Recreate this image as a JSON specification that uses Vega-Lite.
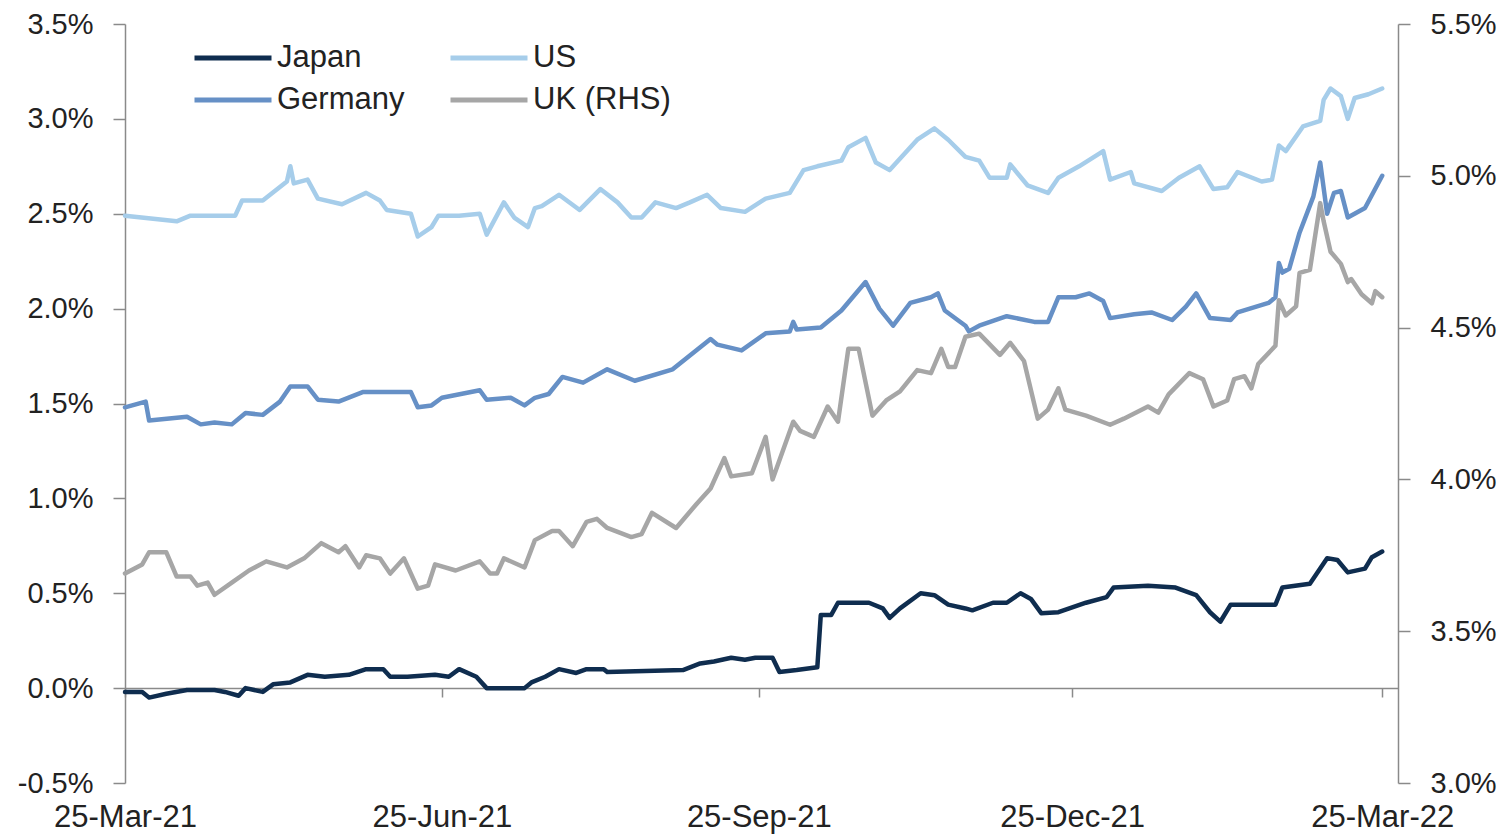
{
"$schema": "https://vega.github.io/schema/vega-lite/v6.json",
"width": 1273,
"height": 759,
"autosize": {"type": "none"},
"padding": {"left": 125, "top": 24, "right": 114, "bottom": 52},
"background": "white",
"config": {
  "font": "Liberation Sans",
  "view": {"stroke": null},
  "axis": {"labelFont": "Liberation Sans", "labelFontSize": 29, "labelColor": "#222222", "domainColor": "#8a8a8a", "tickColor": "#8a8a8a", "domainWidth": 1.5, "tickWidth": 1.5, "grid": false, "title": null, "labelOverlap": false}
},
"data": {
  "format": {"parse": {"d": "date:'%Y-%m-%d'"}},
  "values": [
{"d":"2021-03-25","s":"US","v":2.49},{"d":"2021-04-09","s":"US","v":2.46},{"d":"2021-04-13","s":"US","v":2.49},{"d":"2021-04-26","s":"US","v":2.49},{"d":"2021-04-28","s":"US","v":2.57},{"d":"2021-05-04","s":"US","v":2.57},{"d":"2021-05-11","s":"US","v":2.67},{"d":"2021-05-12","s":"US","v":2.75},{"d":"2021-05-13","s":"US","v":2.66},{"d":"2021-05-17","s":"US","v":2.68},{"d":"2021-05-20","s":"US","v":2.58},{"d":"2021-05-27","s":"US","v":2.55},{"d":"2021-06-03","s":"US","v":2.61},{"d":"2021-06-07","s":"US","v":2.57},{"d":"2021-06-09","s":"US","v":2.52},{"d":"2021-06-16","s":"US","v":2.50},{"d":"2021-06-18","s":"US","v":2.38},{"d":"2021-06-22","s":"US","v":2.43},{"d":"2021-06-24","s":"US","v":2.49},{"d":"2021-06-30","s":"US","v":2.49},{"d":"2021-07-06","s":"US","v":2.50},{"d":"2021-07-08","s":"US","v":2.39},{"d":"2021-07-13","s":"US","v":2.56},{"d":"2021-07-16","s":"US","v":2.48},{"d":"2021-07-20","s":"US","v":2.43},{"d":"2021-07-22","s":"US","v":2.53},{"d":"2021-07-24","s":"US","v":2.54},{"d":"2021-07-29","s":"US","v":2.60},{"d":"2021-08-04","s":"US","v":2.52},{"d":"2021-08-10","s":"US","v":2.63},{"d":"2021-08-15","s":"US","v":2.56},{"d":"2021-08-19","s":"US","v":2.48},{"d":"2021-08-22","s":"US","v":2.48},{"d":"2021-08-26","s":"US","v":2.56},{"d":"2021-09-01","s":"US","v":2.53},{"d":"2021-09-05","s":"US","v":2.56},{"d":"2021-09-10","s":"US","v":2.60},{"d":"2021-09-14","s":"US","v":2.53},{"d":"2021-09-21","s":"US","v":2.51},{"d":"2021-09-27","s":"US","v":2.58},{"d":"2021-10-04","s":"US","v":2.61},{"d":"2021-10-08","s":"US","v":2.73},{"d":"2021-10-12","s":"US","v":2.75},{"d":"2021-10-19","s":"US","v":2.78},{"d":"2021-10-21","s":"US","v":2.85},{"d":"2021-10-26","s":"US","v":2.90},{"d":"2021-10-29","s":"US","v":2.77},{"d":"2021-11-02","s":"US","v":2.73},{"d":"2021-11-10","s":"US","v":2.89},{"d":"2021-11-15","s":"US","v":2.95},{"d":"2021-11-19","s":"US","v":2.89},{"d":"2021-11-24","s":"US","v":2.80},{"d":"2021-11-28","s":"US","v":2.78},{"d":"2021-12-01","s":"US","v":2.69},{"d":"2021-12-06","s":"US","v":2.69},{"d":"2021-12-07","s":"US","v":2.76},{"d":"2021-12-12","s":"US","v":2.65},{"d":"2021-12-18","s":"US","v":2.61},{"d":"2021-12-21","s":"US","v":2.69},{"d":"2021-12-27","s":"US","v":2.75},{"d":"2022-01-03","s":"US","v":2.83},{"d":"2022-01-05","s":"US","v":2.68},{"d":"2022-01-11","s":"US","v":2.72},{"d":"2022-01-12","s":"US","v":2.66},{"d":"2022-01-20","s":"US","v":2.62},{"d":"2022-01-25","s":"US","v":2.69},{"d":"2022-01-31","s":"US","v":2.75},{"d":"2022-02-04","s":"US","v":2.63},{"d":"2022-02-08","s":"US","v":2.64},{"d":"2022-02-11","s":"US","v":2.72},{"d":"2022-02-18","s":"US","v":2.67},{"d":"2022-02-21","s":"US","v":2.68},{"d":"2022-02-23","s":"US","v":2.86},{"d":"2022-02-25","s":"US","v":2.83},{"d":"2022-03-02","s":"US","v":2.96},{"d":"2022-03-07","s":"US","v":2.99},{"d":"2022-03-08","s":"US","v":3.10},{"d":"2022-03-10","s":"US","v":3.16},{"d":"2022-03-13","s":"US","v":3.12},{"d":"2022-03-15","s":"US","v":3.00},{"d":"2022-03-17","s":"US","v":3.11},{"d":"2022-03-21","s":"US","v":3.13},{"d":"2022-03-25","s":"US","v":3.16},
{"d":"2021-03-25","s":"Germany","v":1.48},{"d":"2021-03-31","s":"Germany","v":1.51},{"d":"2021-04-01","s":"Germany","v":1.41},{"d":"2021-04-12","s":"Germany","v":1.43},{"d":"2021-04-16","s":"Germany","v":1.39},{"d":"2021-04-20","s":"Germany","v":1.40},{"d":"2021-04-25","s":"Germany","v":1.39},{"d":"2021-04-29","s":"Germany","v":1.45},{"d":"2021-05-04","s":"Germany","v":1.44},{"d":"2021-05-09","s":"Germany","v":1.51},{"d":"2021-05-12","s":"Germany","v":1.59},{"d":"2021-05-17","s":"Germany","v":1.59},{"d":"2021-05-20","s":"Germany","v":1.52},{"d":"2021-05-26","s":"Germany","v":1.51},{"d":"2021-06-02","s":"Germany","v":1.56},{"d":"2021-06-08","s":"Germany","v":1.56},{"d":"2021-06-16","s":"Germany","v":1.56},{"d":"2021-06-18","s":"Germany","v":1.48},{"d":"2021-06-22","s":"Germany","v":1.49},{"d":"2021-06-25","s":"Germany","v":1.53},{"d":"2021-07-06","s":"Germany","v":1.57},{"d":"2021-07-08","s":"Germany","v":1.52},{"d":"2021-07-15","s":"Germany","v":1.53},{"d":"2021-07-19","s":"Germany","v":1.49},{"d":"2021-07-22","s":"Germany","v":1.53},{"d":"2021-07-26","s":"Germany","v":1.55},{"d":"2021-07-30","s":"Germany","v":1.64},{"d":"2021-08-05","s":"Germany","v":1.61},{"d":"2021-08-12","s":"Germany","v":1.68},{"d":"2021-08-20","s":"Germany","v":1.62},{"d":"2021-08-31","s":"Germany","v":1.68},{"d":"2021-09-02","s":"Germany","v":1.71},{"d":"2021-09-11","s":"Germany","v":1.84},{"d":"2021-09-13","s":"Germany","v":1.81},{"d":"2021-09-20","s":"Germany","v":1.78},{"d":"2021-09-27","s":"Germany","v":1.87},{"d":"2021-10-04","s":"Germany","v":1.88},{"d":"2021-10-05","s":"Germany","v":1.93},{"d":"2021-10-06","s":"Germany","v":1.89},{"d":"2021-10-13","s":"Germany","v":1.90},{"d":"2021-10-19","s":"Germany","v":1.99},{"d":"2021-10-26","s":"Germany","v":2.14},{"d":"2021-10-30","s":"Germany","v":2.00},{"d":"2021-11-03","s":"Germany","v":1.91},{"d":"2021-11-08","s":"Germany","v":2.03},{"d":"2021-11-14","s":"Germany","v":2.06},{"d":"2021-11-16","s":"Germany","v":2.08},{"d":"2021-11-18","s":"Germany","v":1.99},{"d":"2021-11-24","s":"Germany","v":1.91},{"d":"2021-11-25","s":"Germany","v":1.88},{"d":"2021-11-28","s":"Germany","v":1.91},{"d":"2021-12-06","s":"Germany","v":1.96},{"d":"2021-12-14","s":"Germany","v":1.93},{"d":"2021-12-18","s":"Germany","v":1.93},{"d":"2021-12-21","s":"Germany","v":2.06},{"d":"2021-12-26","s":"Germany","v":2.06},{"d":"2021-12-30","s":"Germany","v":2.08},{"d":"2022-01-03","s":"Germany","v":2.04},{"d":"2022-01-05","s":"Germany","v":1.95},{"d":"2022-01-12","s":"Germany","v":1.97},{"d":"2022-01-17","s":"Germany","v":1.98},{"d":"2022-01-23","s":"Germany","v":1.94},{"d":"2022-01-27","s":"Germany","v":2.01},{"d":"2022-01-30","s":"Germany","v":2.08},{"d":"2022-02-03","s":"Germany","v":1.95},{"d":"2022-02-09","s":"Germany","v":1.94},{"d":"2022-02-11","s":"Germany","v":1.98},{"d":"2022-02-20","s":"Germany","v":2.03},{"d":"2022-02-22","s":"Germany","v":2.06},{"d":"2022-02-23","s":"Germany","v":2.24},{"d":"2022-02-24","s":"Germany","v":2.19},{"d":"2022-02-26","s":"Germany","v":2.21},{"d":"2022-03-01","s":"Germany","v":2.40},{"d":"2022-03-05","s":"Germany","v":2.59},{"d":"2022-03-07","s":"Germany","v":2.77},{"d":"2022-03-09","s":"Germany","v":2.50},{"d":"2022-03-11","s":"Germany","v":2.61},{"d":"2022-03-13","s":"Germany","v":2.62},{"d":"2022-03-15","s":"Germany","v":2.48},{"d":"2022-03-20","s":"Germany","v":2.53},{"d":"2022-03-25","s":"Germany","v":2.70},
{"d":"2021-03-25","s":"Japan","v":-0.02},{"d":"2021-03-30","s":"Japan","v":-0.02},{"d":"2021-04-01","s":"Japan","v":-0.05},{"d":"2021-04-06","s":"Japan","v":-0.03},{"d":"2021-04-12","s":"Japan","v":-0.01},{"d":"2021-04-20","s":"Japan","v":-0.01},{"d":"2021-04-23","s":"Japan","v":-0.02},{"d":"2021-04-27","s":"Japan","v":-0.04},{"d":"2021-04-29","s":"Japan","v":0.00},{"d":"2021-05-04","s":"Japan","v":-0.02},{"d":"2021-05-07","s":"Japan","v":0.02},{"d":"2021-05-12","s":"Japan","v":0.03},{"d":"2021-05-17","s":"Japan","v":0.07},{"d":"2021-05-22","s":"Japan","v":0.06},{"d":"2021-05-29","s":"Japan","v":0.07},{"d":"2021-06-03","s":"Japan","v":0.10},{"d":"2021-06-08","s":"Japan","v":0.10},{"d":"2021-06-10","s":"Japan","v":0.06},{"d":"2021-06-15","s":"Japan","v":0.06},{"d":"2021-06-23","s":"Japan","v":0.07},{"d":"2021-06-27","s":"Japan","v":0.06},{"d":"2021-06-30","s":"Japan","v":0.10},{"d":"2021-07-05","s":"Japan","v":0.06},{"d":"2021-07-08","s":"Japan","v":0.00},{"d":"2021-07-12","s":"Japan","v":0.00},{"d":"2021-07-19","s":"Japan","v":0.00},{"d":"2021-07-21","s":"Japan","v":0.03},{"d":"2021-07-25","s":"Japan","v":0.06},{"d":"2021-07-29","s":"Japan","v":0.10},{"d":"2021-08-03","s":"Japan","v":0.08},{"d":"2021-08-06","s":"Japan","v":0.10},{"d":"2021-08-11","s":"Japan","v":0.10},{"d":"2021-08-12","s":"Japan","v":0.085},{"d":"2021-09-03","s":"Japan","v":0.095},{"d":"2021-09-08","s":"Japan","v":0.13},{"d":"2021-09-12","s":"Japan","v":0.14},{"d":"2021-09-17","s":"Japan","v":0.16},{"d":"2021-09-21","s":"Japan","v":0.15},{"d":"2021-09-24","s":"Japan","v":0.16},{"d":"2021-09-29","s":"Japan","v":0.16},{"d":"2021-10-01","s":"Japan","v":0.085},{"d":"2021-10-06","s":"Japan","v":0.095},{"d":"2021-10-12","s":"Japan","v":0.11},{"d":"2021-10-13","s":"Japan","v":0.385},{"d":"2021-10-16","s":"Japan","v":0.385},{"d":"2021-10-18","s":"Japan","v":0.45},{"d":"2021-10-27","s":"Japan","v":0.45},{"d":"2021-10-31","s":"Japan","v":0.42},{"d":"2021-11-02","s":"Japan","v":0.37},{"d":"2021-11-05","s":"Japan","v":0.42},{"d":"2021-11-11","s":"Japan","v":0.50},{"d":"2021-11-15","s":"Japan","v":0.49},{"d":"2021-11-19","s":"Japan","v":0.44},{"d":"2021-11-24","s":"Japan","v":0.42},{"d":"2021-11-26","s":"Japan","v":0.41},{"d":"2021-12-02","s":"Japan","v":0.45},{"d":"2021-12-06","s":"Japan","v":0.45},{"d":"2021-12-10","s":"Japan","v":0.50},{"d":"2021-12-13","s":"Japan","v":0.47},{"d":"2021-12-16","s":"Japan","v":0.395},{"d":"2021-12-21","s":"Japan","v":0.40},{"d":"2021-12-29","s":"Japan","v":0.45},{"d":"2022-01-04","s":"Japan","v":0.48},{"d":"2022-01-06","s":"Japan","v":0.53},{"d":"2022-01-16","s":"Japan","v":0.54},{"d":"2022-01-24","s":"Japan","v":0.53},{"d":"2022-01-30","s":"Japan","v":0.49},{"d":"2022-02-03","s":"Japan","v":0.40},{"d":"2022-02-06","s":"Japan","v":0.35},{"d":"2022-02-09","s":"Japan","v":0.44},{"d":"2022-02-22","s":"Japan","v":0.44},{"d":"2022-02-24","s":"Japan","v":0.53},{"d":"2022-03-04","s":"Japan","v":0.55},{"d":"2022-03-09","s":"Japan","v":0.685},{"d":"2022-03-12","s":"Japan","v":0.675},{"d":"2022-03-15","s":"Japan","v":0.61},{"d":"2022-03-20","s":"Japan","v":0.63},{"d":"2022-03-22","s":"Japan","v":0.69},{"d":"2022-03-25","s":"Japan","v":0.72},
{"d":"2021-03-25","s":"UK (RHS)","v":3.69},{"d":"2021-03-30","s":"UK (RHS)","v":3.72},{"d":"2021-04-01","s":"UK (RHS)","v":3.76},{"d":"2021-04-06","s":"UK (RHS)","v":3.76},{"d":"2021-04-09","s":"UK (RHS)","v":3.68},{"d":"2021-04-13","s":"UK (RHS)","v":3.68},{"d":"2021-04-15","s":"UK (RHS)","v":3.65},{"d":"2021-04-18","s":"UK (RHS)","v":3.66},{"d":"2021-04-20","s":"UK (RHS)","v":3.62},{"d":"2021-04-25","s":"UK (RHS)","v":3.66},{"d":"2021-04-30","s":"UK (RHS)","v":3.70},{"d":"2021-05-05","s":"UK (RHS)","v":3.73},{"d":"2021-05-11","s":"UK (RHS)","v":3.71},{"d":"2021-05-16","s":"UK (RHS)","v":3.74},{"d":"2021-05-21","s":"UK (RHS)","v":3.79},{"d":"2021-05-26","s":"UK (RHS)","v":3.76},{"d":"2021-05-28","s":"UK (RHS)","v":3.78},{"d":"2021-06-01","s":"UK (RHS)","v":3.71},{"d":"2021-06-03","s":"UK (RHS)","v":3.75},{"d":"2021-06-07","s":"UK (RHS)","v":3.74},{"d":"2021-06-10","s":"UK (RHS)","v":3.69},{"d":"2021-06-14","s":"UK (RHS)","v":3.74},{"d":"2021-06-18","s":"UK (RHS)","v":3.64},{"d":"2021-06-21","s":"UK (RHS)","v":3.65},{"d":"2021-06-23","s":"UK (RHS)","v":3.72},{"d":"2021-06-29","s":"UK (RHS)","v":3.70},{"d":"2021-07-06","s":"UK (RHS)","v":3.73},{"d":"2021-07-09","s":"UK (RHS)","v":3.69},{"d":"2021-07-11","s":"UK (RHS)","v":3.69},{"d":"2021-07-13","s":"UK (RHS)","v":3.74},{"d":"2021-07-19","s":"UK (RHS)","v":3.71},{"d":"2021-07-22","s":"UK (RHS)","v":3.80},{"d":"2021-07-27","s":"UK (RHS)","v":3.83},{"d":"2021-07-29","s":"UK (RHS)","v":3.83},{"d":"2021-08-02","s":"UK (RHS)","v":3.78},{"d":"2021-08-06","s":"UK (RHS)","v":3.86},{"d":"2021-08-09","s":"UK (RHS)","v":3.87},{"d":"2021-08-12","s":"UK (RHS)","v":3.84},{"d":"2021-08-19","s":"UK (RHS)","v":3.81},{"d":"2021-08-22","s":"UK (RHS)","v":3.82},{"d":"2021-08-25","s":"UK (RHS)","v":3.89},{"d":"2021-09-01","s":"UK (RHS)","v":3.84},{"d":"2021-09-07","s":"UK (RHS)","v":3.92},{"d":"2021-09-11","s":"UK (RHS)","v":3.97},{"d":"2021-09-15","s":"UK (RHS)","v":4.07},{"d":"2021-09-17","s":"UK (RHS)","v":4.01},{"d":"2021-09-23","s":"UK (RHS)","v":4.02},{"d":"2021-09-27","s":"UK (RHS)","v":4.14},{"d":"2021-09-29","s":"UK (RHS)","v":4.00},{"d":"2021-10-05","s":"UK (RHS)","v":4.19},{"d":"2021-10-07","s":"UK (RHS)","v":4.16},{"d":"2021-10-11","s":"UK (RHS)","v":4.14},{"d":"2021-10-15","s":"UK (RHS)","v":4.24},{"d":"2021-10-18","s":"UK (RHS)","v":4.19},{"d":"2021-10-21","s":"UK (RHS)","v":4.43},{"d":"2021-10-24","s":"UK (RHS)","v":4.43},{"d":"2021-10-28","s":"UK (RHS)","v":4.21},{"d":"2021-11-01","s":"UK (RHS)","v":4.26},{"d":"2021-11-05","s":"UK (RHS)","v":4.29},{"d":"2021-11-10","s":"UK (RHS)","v":4.36},{"d":"2021-11-14","s":"UK (RHS)","v":4.35},{"d":"2021-11-17","s":"UK (RHS)","v":4.43},{"d":"2021-11-19","s":"UK (RHS)","v":4.37},{"d":"2021-11-21","s":"UK (RHS)","v":4.37},{"d":"2021-11-24","s":"UK (RHS)","v":4.47},{"d":"2021-11-28","s":"UK (RHS)","v":4.48},{"d":"2021-12-04","s":"UK (RHS)","v":4.41},{"d":"2021-12-07","s":"UK (RHS)","v":4.45},{"d":"2021-12-11","s":"UK (RHS)","v":4.39},{"d":"2021-12-15","s":"UK (RHS)","v":4.20},{"d":"2021-12-18","s":"UK (RHS)","v":4.23},{"d":"2021-12-21","s":"UK (RHS)","v":4.30},{"d":"2021-12-23","s":"UK (RHS)","v":4.23},{"d":"2021-12-29","s":"UK (RHS)","v":4.21},{"d":"2022-01-05","s":"UK (RHS)","v":4.18},{"d":"2022-01-09","s":"UK (RHS)","v":4.20},{"d":"2022-01-16","s":"UK (RHS)","v":4.24},{"d":"2022-01-19","s":"UK (RHS)","v":4.22},{"d":"2022-01-22","s":"UK (RHS)","v":4.28},{"d":"2022-01-28","s":"UK (RHS)","v":4.35},{"d":"2022-02-01","s":"UK (RHS)","v":4.33},{"d":"2022-02-04","s":"UK (RHS)","v":4.24},{"d":"2022-02-08","s":"UK (RHS)","v":4.26},{"d":"2022-02-10","s":"UK (RHS)","v":4.33},{"d":"2022-02-13","s":"UK (RHS)","v":4.34},{"d":"2022-02-15","s":"UK (RHS)","v":4.30},{"d":"2022-02-17","s":"UK (RHS)","v":4.38},{"d":"2022-02-22","s":"UK (RHS)","v":4.44},{"d":"2022-02-23","s":"UK (RHS)","v":4.59},{"d":"2022-02-25","s":"UK (RHS)","v":4.54},{"d":"2022-02-28","s":"UK (RHS)","v":4.57},{"d":"2022-03-01","s":"UK (RHS)","v":4.68},{"d":"2022-03-04","s":"UK (RHS)","v":4.69},{"d":"2022-03-07","s":"UK (RHS)","v":4.91},{"d":"2022-03-08","s":"UK (RHS)","v":4.85},{"d":"2022-03-10","s":"UK (RHS)","v":4.75},{"d":"2022-03-13","s":"UK (RHS)","v":4.71},{"d":"2022-03-15","s":"UK (RHS)","v":4.65},{"d":"2022-03-16","s":"UK (RHS)","v":4.66},{"d":"2022-03-19","s":"UK (RHS)","v":4.61},{"d":"2022-03-22","s":"UK (RHS)","v":4.58},{"d":"2022-03-23","s":"UK (RHS)","v":4.62},{"d":"2022-03-25","s":"UK (RHS)","v":4.60}
  ]
},
"layer": [
  {
    "transform": [{"filter": "datum.s !== 'UK (RHS)'"}],
    "mark": {"type": "line", "strokeWidth": 4.5, "strokeJoin": "round", "strokeCap": "round"},
    "encoding": {
      "x": {"field": "d", "type": "temporal",
        "scale": {"domain": [{"year": 2021, "month": 3, "date": 25}, {"year": 2022, "month": 3, "date": 29, "hours": 14}], "nice": false},
        "axis": {"orient": "bottom", "values": [{"year": 2021, "month": 3, "date": 25}, {"year": 2021, "month": 6, "date": 25}, {"year": 2021, "month": 9, "date": 25}, {"year": 2021, "month": 12, "date": 25}, {"year": 2022, "month": 3, "date": 25}],
          "format": "%d-%b-%y", "formatType": "time", "domain": false, "ticks": false, "tickSize": 0, "labelPadding": 19, "labelFontSize": 31, "labelAlign": "center", "labelFlush": false}},
      "y": {"field": "v", "type": "quantitative",
        "scale": {"domain": [-0.5, 3.5], "nice": false, "zero": false},
        "axis": {"orient": "left", "values": [-0.5, 0, 0.5, 1, 1.5, 2, 2.5, 3, 3.5], "labelExpr": "(datum.value < 0 ? '-' : '') + format(abs(datum.value), '.1f') + '%'", "tickSize": 12, "labelPadding": 20, "domain": true}},
      "color": {"field": "s", "type": "nominal",
        "scale": {"domain": ["Japan", "Germany", "US", "UK (RHS)"], "range": ["#0f2d4f", "#6690c6", "#a6cdea", "#a6a6a6"]},
        "legend": {"orient": "none", "legendX": 67, "legendY": 15, "columns": 2, "title": null, "symbolType": "stroke", "symbolSize": 5929, "symbolStrokeWidth": 5, "labelFontSize": 31, "labelFont": "Liberation Sans", "labelColor": "#222222", "labelOffset": 3, "columnPadding": 43, "rowPadding": 4, "clipHeight": 38, "padding": 0}}
    }
  },
  {
    "transform": [{"filter": "datum.s === 'UK (RHS)'"}],
    "mark": {"type": "line", "strokeWidth": 4.5, "strokeJoin": "round", "strokeCap": "round"},
    "encoding": {
      "x": {"field": "d", "type": "temporal",
        "axis": {"orient": "bottom", "offset": -95, "values": [{"year": 2021, "month": 3, "date": 25}, {"year": 2021, "month": 6, "date": 25}, {"year": 2021, "month": 9, "date": 25}, {"year": 2021, "month": 12, "date": 25}, {"year": 2022, "month": 3, "date": 25}],
          "labels": false, "ticks": true, "tickSize": 9, "domain": true}},
      "y": {"field": "v", "type": "quantitative",
        "scale": {"domain": [3.0, 5.5], "nice": false, "zero": false},
        "axis": {"orient": "right", "values": [3, 3.5, 4, 4.5, 5, 5.5], "labelExpr": "format(datum.value, '.1f') + '%'", "tickSize": 12, "labelPadding": 20, "domain": true}},
      "color": {"field": "s", "type": "nominal"}
    }
  }
],
"resolve": {"scale": {"y": "independent"}, "axis": {"x": "independent"}}
}
